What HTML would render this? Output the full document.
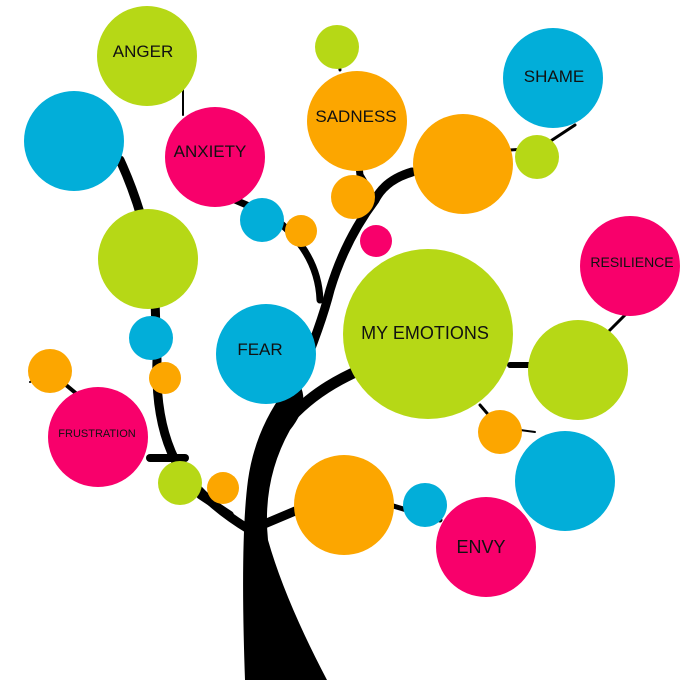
<!DOCTYPE html>
<html><head><meta charset="utf-8"><style>
html,body{margin:0;padding:0;background:#fff;width:700px;height:700px;overflow:hidden}
text{font-family:"Liberation Sans",sans-serif;font-weight:normal;fill:#111}
</style></head><body>
<svg width="700" height="700" viewBox="0 0 700 700" xmlns="http://www.w3.org/2000/svg">
<g fill="none" stroke="#000" stroke-linecap="round">
<path d="M250 530 Q200 500 175 460 Q155 420 157 360 L155 300 Q152 230 120 160" stroke-width="9"/>
<path d="M150 458 L185 458" stroke-width="8"/>
<path d="M200 495 L230 515" stroke-width="8"/>
<path d="M120 160 L80 120" stroke-width="3"/>
<path d="M55 370 L30 382" stroke-width="2"/>
<path d="M60 380 L90 405" stroke-width="4"/>
<path d="M262 525 L345 490" stroke-width="9"/>
<path d="M390 505 L440 520" stroke-width="5"/>
<path d="M262 460 Q290 400 360 370" stroke-width="11"/>
<path d="M510 365 L540 365" stroke-width="6"/>
<path d="M480 405 L510 440" stroke-width="3"/>
<path d="M520 430 L535 432" stroke-width="2"/>
<path d="M605 335 L640 300" stroke-width="3"/>
<path d="M290 400 Q320 330 330 290 Q345 240 375 200 Q385 180 412 172" stroke-width="9"/>
<path d="M375 200 L360 175 L357 150" stroke-width="7"/>
<path d="M320 300 Q318 250 270 215 L235 200" stroke-width="7"/>
<path d="M340 70 L337 47" stroke-width="3"/>
<path d="M183 80 L183 115" stroke-width="2"/>
<path d="M510 150 L540 148 L575 125" stroke-width="3"/>
<path d="M376 230 L376 245" stroke-width="5"/>
</g>
<path d="M245 680 L327 680 Q285 600 268 540 Q262 480 290 430 Q310 405 300 385 L285 390 Q255 430 248 480 Q240 540 245 680 Z" fill="#000"/>
<g>
<circle cx="147" cy="56" r="50" fill="#b6d816"/>
<circle cx="337" cy="47" r="22" fill="#b6d816"/>
<circle cx="357" cy="121" r="50" fill="#fca600"/>
<circle cx="553" cy="78" r="50" fill="#02aed9"/>
<circle cx="537" cy="157" r="22" fill="#b6d816"/>
<circle cx="463" cy="164" r="50" fill="#fca600"/>
<circle cx="74" cy="141" r="50" fill="#02aed9"/>
<circle cx="215" cy="157" r="50" fill="#f8006b"/>
<circle cx="262" cy="220" r="22" fill="#02aed9"/>
<circle cx="301" cy="231" r="16" fill="#fca600"/>
<circle cx="353" cy="197" r="22" fill="#fca600"/>
<circle cx="376" cy="241" r="16" fill="#f8006b"/>
<circle cx="148" cy="259" r="50" fill="#b6d816"/>
<circle cx="630" cy="266" r="50" fill="#f8006b"/>
<circle cx="151" cy="338" r="22" fill="#02aed9"/>
<circle cx="266" cy="354" r="50" fill="#02aed9"/>
<circle cx="428" cy="334" r="85" fill="#b6d816"/>
<circle cx="578" cy="370" r="50" fill="#b6d816"/>
<circle cx="50" cy="371" r="22" fill="#fca600"/>
<circle cx="165" cy="378" r="16" fill="#fca600"/>
<circle cx="98" cy="437" r="50" fill="#f8006b"/>
<circle cx="500" cy="432" r="22" fill="#fca600"/>
<circle cx="565" cy="481" r="50" fill="#02aed9"/>
<circle cx="180" cy="483" r="22" fill="#b6d816"/>
<circle cx="223" cy="488" r="16" fill="#fca600"/>
<circle cx="344" cy="505" r="50" fill="#fca600"/>
<circle cx="425" cy="505" r="22" fill="#02aed9"/>
<circle cx="486" cy="547" r="50" fill="#f8006b"/>
</g>
<text x="143" y="57" font-size="17" text-anchor="middle">ANGER</text>
<text x="356" y="122" font-size="17" text-anchor="middle">SADNESS</text>
<text x="554" y="82" font-size="17" text-anchor="middle">SHAME</text>
<text x="210" y="157" font-size="17" text-anchor="middle">ANXIETY</text>
<text x="632" y="267" font-size="14" text-anchor="middle">RESILIENCE</text>
<text x="260" y="355" font-size="17" text-anchor="middle">FEAR</text>
<text x="425" y="339" font-size="18" text-anchor="middle">MY EMOTIONS</text>
<text x="97" y="437" font-size="11" text-anchor="middle">FRUSTRATION</text>
<text x="481" y="553" font-size="18" text-anchor="middle">ENVY</text>
</svg>
</body></html>
